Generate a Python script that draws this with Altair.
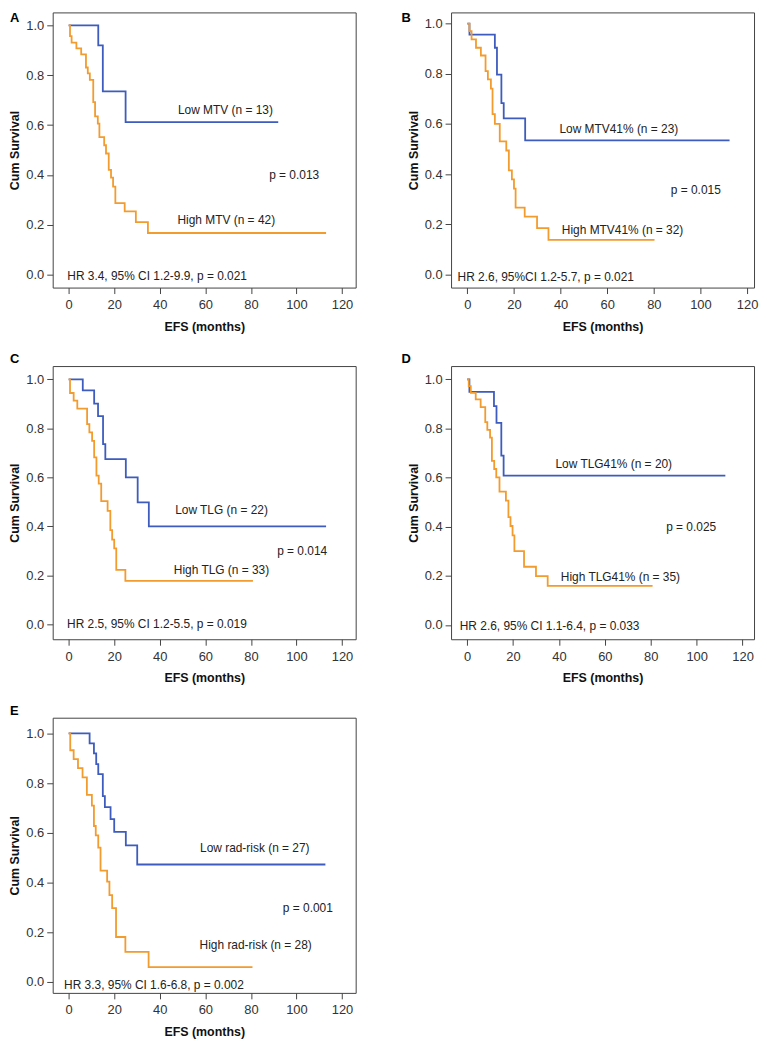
import altair as alt
import pandas as pd

FONT = "Liberation Sans"
BLUE = "#3d5cbd"
ORANGE = "#f29b2e"

# ---------------- data ----------------
A_low_t = [0, 13, 15, 25]
A_low_s = [1.0, 0.92, 0.735, 0.612]
A_low_end = 92
A_high_t = [0, 0.6, 1.3, 3.4, 5.5, 7.6, 8.4, 9.3, 10.8, 11.6, 12.8, 13.5, 15.6, 16.4, 17.6, 18.6, 19.5, 20.5, 24.6, 29.5, 34.8]
A_high_s = [1.0, 0.957, 0.931, 0.908, 0.884, 0.831, 0.807, 0.781, 0.692, 0.635, 0.606, 0.552, 0.519, 0.486, 0.42, 0.389, 0.353, 0.287, 0.254, 0.211, 0.167]
A_high_end = 113

B_low_t = [0, 0.9, 11.8, 12.7, 14.6, 15.6, 24.8]
B_low_s = [1.0, 0.956, 0.904, 0.797, 0.683, 0.622, 0.534]
B_low_end = 112.5
B_high_t = [0, 0.9, 1.8, 3.7, 5.8, 7.8, 8.8, 10.1, 10.8, 11.8, 13.9, 16.7, 17.8, 19.1, 20.0, 20.7, 24.6, 29.9, 34.8]
B_high_s = [1.0, 0.97, 0.937, 0.904, 0.873, 0.811, 0.778, 0.741, 0.639, 0.600, 0.530, 0.494, 0.415, 0.379, 0.342, 0.266, 0.230, 0.184, 0.137]
B_high_end = 80.3

C_low_t = [0, 6.2, 11.2, 12.9, 15.1, 16.1, 25.1, 30.3, 35.2]
C_low_s = [1.0, 0.955, 0.901, 0.85, 0.735, 0.674, 0.600, 0.498, 0.400]
C_low_end = 113
C_high_t = [0, 0.6, 2.2, 3.8, 8.1, 9.1, 10.3, 11.2, 12.2, 13.2, 14.3, 17.1, 18.3, 19.1, 20.0, 20.9, 24.9]
C_high_s = [1.0, 0.944, 0.913, 0.880, 0.817, 0.783, 0.749, 0.681, 0.607, 0.574, 0.503, 0.463, 0.384, 0.346, 0.31, 0.222, 0.177]
C_high_end = 80.9

D_low_t = [0, 1.0, 11.7, 12.8, 14.9, 15.9]
D_low_s = [1.0, 0.949, 0.891, 0.823, 0.689, 0.608]
D_low_end = 112.5
D_high_t = [0, 0.7, 1.6, 3.75, 5.9, 7.9, 8.8, 10.0, 10.8, 11.8, 12.7, 14.1, 16.9, 18.0, 18.9, 19.8, 20.6, 24.8, 30.0, 35.1]
D_high_s = [1.0, 0.972, 0.945, 0.918, 0.887, 0.826, 0.794, 0.763, 0.668, 0.635, 0.601, 0.543, 0.506, 0.439, 0.403, 0.365, 0.301, 0.237, 0.199, 0.159]
D_high_end = 80.8

E_low_t = [0, 9.2, 11.1, 12.1, 13.0, 15.0, 15.9, 18.4, 20.0, 25.1, 30.1]
E_low_s = [1.0, 0.96, 0.919, 0.876, 0.836, 0.747, 0.703, 0.655, 0.603, 0.549, 0.472]
E_low_end = 112.7
E_high_t = [0, 0.7, 2.2, 4.1, 6.1, 8.0, 10.2, 11.1, 11.9, 13.0, 14.0, 16.9, 17.9, 19.1, 20.8, 24.9, 35.1]
E_high_s = [1.0, 0.932, 0.896, 0.86, 0.823, 0.752, 0.709, 0.627, 0.589, 0.54, 0.447, 0.403, 0.349, 0.296, 0.18, 0.12, 0.059]
E_high_end = 80.7

# annotation texts
A_texts = ["Low MTV (n = 13)", "p = 0.013", "High MTV (n = 42)"]
A_hr = "HR 3.4, 95% CI 1.2-9.9, p = 0.021"
B_texts = ["Low MTV41% (n = 23)", "p = 0.015", "High MTV41% (n = 32)"]
B_hr = "HR 2.6, 95%CI 1.2-5.7, p = 0.021"
C_texts = ["Low TLG (n = 22)", "p = 0.014", "High TLG (n = 33)"]
C_hr = "HR 2.5, 95% CI 1.2-5.5, p = 0.019"
D_texts = ["Low TLG41% (n = 20)", "p = 0.025", "High TLG41% (n = 35)"]
D_hr = "HR 2.6, 95% CI 1.1-6.4, p = 0.033"
E_texts = ["Low rad-risk (n = 27)", "p = 0.001", "High rad-risk (n = 28)"]
E_hr = "HR 3.3, 95% CI 1.6-6.8, p = 0.002"

# annotation anchor points (data coordinates)
A_tx, A_ty = [68.8, 99, 69.2], [0.661, 0.40, 0.22]
B_tx, B_ty = [65, 98, 66.6], [0.581, 0.337, 0.178]
C_tx, C_ty = [67.1, 102.5, 67.1], [0.466, 0.301, 0.22]
D_tx, D_ty = [63.9, 97.6, 66.8], [0.656, 0.398, 0.195]
E_tx, E_ty = [81.7, 105, 82.1], [0.539, 0.296, 0.149]
A_hrx, A_hry = -0.6, -0.005
B_hrx, B_hry = -4.2, -0.009
C_hrx, C_hry = -0.7, 0.0
D_hrx, D_hry = -3.2, -0.004
E_hrx, E_hry = -2.0, -0.015

X_TICKS = [0, 20, 40, 60, 80, 100, 120]
Y_TICKS = [0.0, 0.2, 0.4, 0.6, 0.8, 1.0]


def curve_df(t, s, end, group):
    rows = [{"t": a, "s": b, "g": group} for a, b in zip(t, s)]
    rows.append({"t": end, "s": s[-1], "g": group})
    return rows


def panel(letter, low, high, texts, tx, ty, hr, hrx, hry, xdom, ydom, w, h, lx, ly):
    df = pd.DataFrame(curve_df(*low, "Low") + curve_df(*high, "High"))
    x = alt.X("t:Q", title="EFS (months)",
              scale=alt.Scale(domain=xdom, nice=False, zero=False),
              axis=alt.Axis(values=X_TICKS))
    y = alt.Y("s:Q", title="Cum Survival",
              scale=alt.Scale(domain=ydom, nice=False, zero=False),
              axis=alt.Axis(values=Y_TICKS, format=".1f"))
    lines = alt.Chart(df).mark_line(interpolate="step-after", strokeWidth=1.8).encode(
        x=x, y=y,
        color=alt.Color("g:N", scale=alt.Scale(domain=["Low", "High"], range=[BLUE, ORANGE]), legend=None),
    )
    tdf = pd.DataFrame({"t": tx, "s": ty, "label": texts})
    lab = alt.Chart(tdf).mark_text(font=FONT, fontSize=12, color="#222", align="center", baseline="middle").encode(
        x="t:Q", y="s:Q", text="label:N")
    hdf = pd.DataFrame({"t": [hrx], "s": [hry], "label": [hr]})
    hrl = alt.Chart(hdf).mark_text(font=FONT, fontSize=12, color="#222", align="left", baseline="middle").encode(
        x="t:Q", y="s:Q", text="label:N")
    let = alt.Chart(pd.DataFrame({"letter": [letter]})).mark_text(
        font=FONT, fontSize=13, fontWeight="bold", color="#000", align="left", baseline="top").encode(
        x=alt.value(lx), y=alt.value(ly), text="letter:N")
    return alt.layer(lines, lab, hrl, let).properties(width=w, height=h)


pA = panel("A", (A_low_t, A_low_s, A_low_end), (A_high_t, A_high_s, A_high_end), A_texts, A_tx, A_ty, A_hr, A_hrx, A_hry,
           [-7, 126], [-0.052, 1.052], 305, 277, -43, 0)
pB = panel("B", (B_low_t, B_low_s, B_low_end), (B_high_t, B_high_s, B_high_end), B_texts, B_tx, B_ty, B_hr, B_hrx, B_hry,
           [-7, 123], [-0.053, 1.045], 305, 277, -50, 0)
pC = panel("C", (C_low_t, C_low_s, C_low_end), (C_high_t, C_high_s, C_high_end), C_texts, C_tx, C_ty, C_hr, C_hrx, C_hry,
           [-7, 126], [-0.061, 1.054], 305, 275, -43, -13)
pD = panel("D", (D_low_t, D_low_s, D_low_end), (D_high_t, D_high_s, D_high_end), D_texts, D_tx, D_ty, D_hr, D_hrx, D_hry,
           [-7, 125], [-0.058, 1.054], 305, 275, -50, -13)
pE = panel("E", (E_low_t, E_low_s, E_low_end), (E_high_t, E_high_s, E_high_end), E_texts, E_tx, E_ty, E_hr, E_hrx, E_hry,
           [-7, 126], [-0.045, 1.063], 305, 277, -43, -13)

chart = alt.concat(pA, pB, pC, pD, pE, columns=2, spacing={"row": 79, "column": 96}, bounds="flush", padding=0
).configure_view(
    stroke="#444", strokeWidth=1
).configure_axis(
    domain=False, grid=False, tickSize=6, tickColor="#444", tickWidth=1,
    labelFont=FONT, labelFontSize=13, labelColor="#333",
    titleFont=FONT, titleFontSize=12.5, titleFontWeight="bold", titleColor="#111",
).configure_axisX(
    labelPadding=5, titlePadding=9
).configure_axisY(
    labelPadding=3, titlePadding=4
).properties(background="white")

chart.save("out.html", embed_options={"renderer": "svg", "actions": False})
